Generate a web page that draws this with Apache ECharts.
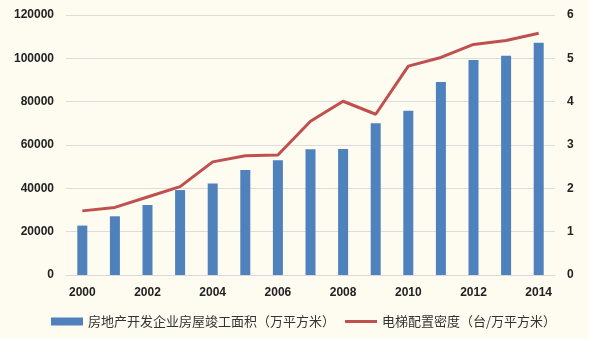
<!DOCTYPE html>
<html><head><meta charset="utf-8">
<script src="https://cdn.jsdelivr.net/npm/echarts@6/dist/echarts.min.js"></script>
<style>html,body{margin:0;padding:0;background:#FEFBF1;}#c{width:589px;height:339px;}</style>
</head><body><div id="c"></div>
<script>
const years = ['2000','2001','2002','2003','2004','2005','2006','2007','2008','2009','2010','2011','2012','2013','2014'];
const completedArea = [22800,27100,32300,39200,42200,48500,53000,58000,58200,70000,75800,89100,99200,101200,107200];
const elevatorDensity = [1.48,1.56,1.80,2.04,2.61,2.75,2.77,3.55,4.01,3.71,4.82,5.02,5.32,5.41,5.58];
const leftTicks = [0,20000,40000,60000,80000,100000,120000];
const rightTicks = [0,1,2,3,4,5,6];
const seriesNames = ['房地产开发企业房屋竣工面积（万平方米）','电梯配置密度（台/万平方米）'];

const chart = echarts.init(document.getElementById('c'));
const lbl = {color:'#222', fontSize:12, fontWeight:'bold', fontFamily:'Liberation Sans, Arial, sans-serif'};
chart.setOption({
  backgroundColor:'#FEFBF1',
  animation:false,
  grid:{left:66, right:34, top:15, bottom:64},
  legend:{
    bottom:6, left:46, itemGap:10, itemWidth:32, itemHeight:8,
    textStyle:{fontSize:13, color:'#333', fontFamily:'Noto Sans CJK SC'},
    data:[{name:seriesNames[0], icon:'rect'},
          {name:seriesNames[1], icon:'path://M0,0 L32,0 L32,3 L0,3 Z'}]
  },
  xAxis:{type:'category', data:years,
    axisLine:{show:true, lineStyle:{color:'#D9D9D9'}}, axisTick:{show:false},
    axisLabel:Object.assign({interval:1, margin:12}, lbl)},
  yAxis:[
    {type:'value', min:leftTicks[0], max:leftTicks[leftTicks.length-1], interval:20000,
     axisLine:{show:false}, axisTick:{show:false},
     splitLine:{lineStyle:{color:'#DCDCDC', width:1}},
     axisLabel:Object.assign({margin:12, formatter:function(v){return String(v);}}, lbl)},
    {type:'value', min:rightTicks[0], max:rightTicks[rightTicks.length-1], interval:1,
     axisLine:{show:false}, axisTick:{show:false}, splitLine:{show:false},
     axisLabel:Object.assign({margin:12}, lbl)}
  ],
  series:[
    {name:seriesNames[0], type:'bar', data:completedArea, barWidth:10,
     itemStyle:{color:'#4F81BD'}},
    {name:seriesNames[1], type:'line', yAxisIndex:1, data:elevatorDensity,
     symbol:'none', lineStyle:{color:'#C0504D', width:3}, itemStyle:{color:'#C0504D'}}
  ]
});
</script></body></html>
